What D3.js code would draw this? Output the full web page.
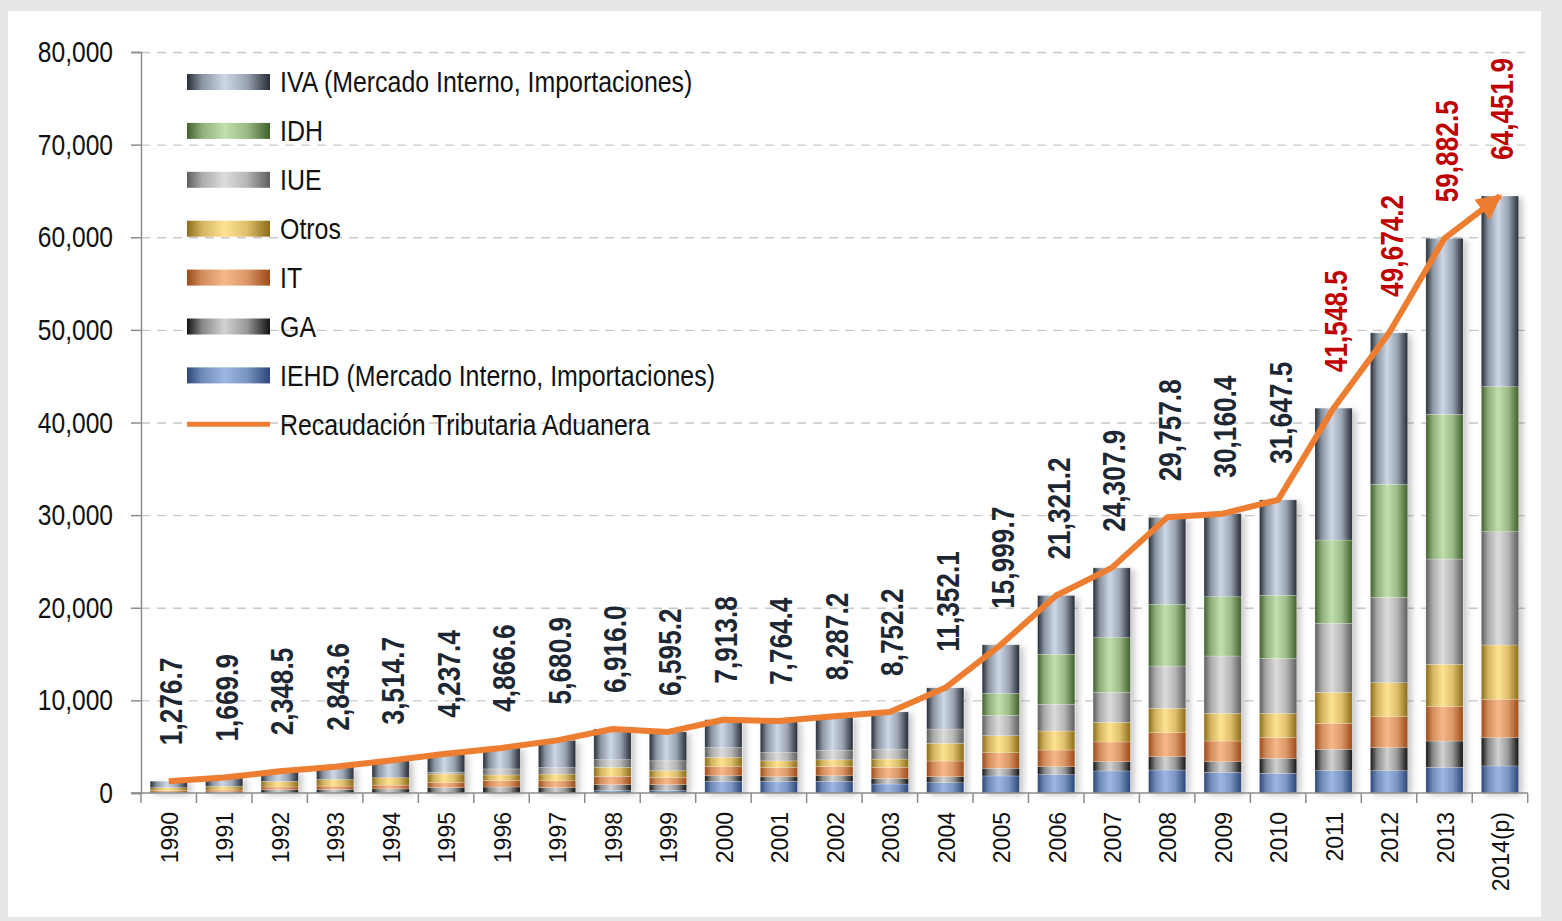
<!DOCTYPE html>
<html>
<head>
<meta charset="utf-8">
<script src="https://cdn.jsdelivr.net/npm/d3@7"></script>
<style>
  html, body { margin: 0; padding: 0; background: #e6e6e6; }
  svg { display: block; }
  text { font-family: "Liberation Sans", Arial, sans-serif; }
</style>
</head>
<body>
<svg id="chart" width="1562" height="921"></svg>
<script>
// recaudacion tributaria aduanera, millones de Bs
const years = ['1990','1991','1992','1993','1994','1995','1996','1997','1998','1999','2000','2001','2002',
  '2003','2004','2005','2006','2007','2008','2009','2010','2011','2012','2013','2014(p)']

const iehd  = [0,0,0,0,0,0,0,0,250,250,1250,1250,1250,970,1110,1840,1980,2380,2480,2230,2120,2410,2410,2770,2920]
const ga    = [100,120,350,400,450,600,650,600,650,650,610,500,610,600,650,830,860,1000,1440,1150,1620,2300,2480,2840,3050]
const it    = [170,200,300,350,400,550,700,720,900,780,1000,1000,1000,1190,1690,1680,1800,2130,2590,2230,2230,2810,3350,3710,4150]
const otros = [300,380,600,700,800,900,600,720,970,720,970,720,720,900,1920,1840,2050,2120,2630,2990,2630,3350,3670,4570,5860]
const iue   = [0,0,0,0,0,200,650,710,830,1080,1080,900,1040,1080,1540,2200,2890,3240,4570,6190,5940,7450,9220,11370,12230]
const idh   = [0,0,0,0,0,0,0,0,0,0,0,0,0,0,0,2370,5390,5900,6660,6400,6800,8990,12200,15620,15660]
const iva   = [706.7,969.9,1098.5,1393.6,1864.7,1987.4,2266.6,2930.9,3316.0,3115.2,3003.8,3394.4,3667.2,4012.2,
  4442.1,5239.7,6351.2,7537.9,9387.8,8970.4,10307.5,14238.5,16344.2,19002.5,20581.9]
const totals = [1276.7,1669.9,2348.5,2843.6,3514.7,4237.4,4866.6,5680.9,6916.0,6595.2,7913.8,7764.4,8287.2,
  8752.2,11352.1,15999.7,21321.2,24307.9,29757.8,30160.4,31647.5,41548.5,49674.2,59882.5,64451.9]
const yTicks = [0,10000,20000,30000,40000,50000,60000,70000,80000]

// stacking order, bottom to top
const series = [
  { key: 'iehd',  name: 'IEHD (Mercado Interno, Importaciones)', dark: '#2c4778', light: '#9db6e2' },
  { key: 'ga',    name: 'GA',    dark: '#141414', light: '#d2d2d2' },
  { key: 'it',    name: 'IT',    dark: '#9c4a18', light: '#f6b88a' },
  { key: 'otros', name: 'Otros', dark: '#8c6c18', light: '#ffe390' },
  { key: 'iue',   name: 'IUE',   dark: '#5e5e5e', light: '#dcdcdc' },
  { key: 'idh',   name: 'IDH',   dark: '#40612c', light: '#c1e0ad' },
  { key: 'iva',   name: 'IVA (Mercado Interno, Importaciones)', dark: '#262d37', light: '#cdd7e6' }
]
const values = { iehd, ga, it, otros, iue, idh, iva }

const rows = years.map((yr, i) => {
  const r = { year: yr, total: totals[i] }
  series.forEach(s => r[s.key] = values[s.key][i])
  return r
})

// arial narrow look: squeeze glyphs horizontally
const narrow = 'scale(0.82,1)'

const svg = d3.select('#chart')
const defs = svg.append('defs')

series.forEach(s => {
  const g = defs.append('linearGradient').attr('id', 'grad-' + s.key)
      .attr('x1', 0).attr('x2', 1).attr('y1', 0).attr('y2', 0)
  g.append('stop').attr('offset', '0%').attr('stop-color', s.dark)
  g.append('stop').attr('offset', '18%').attr('stop-color', d3.interpolateRgb(s.dark, s.light)(0.6))
  g.append('stop').attr('offset', '45%').attr('stop-color', s.light)
  g.append('stop').attr('offset', '72%').attr('stop-color', d3.interpolateRgb(s.dark, s.light)(0.7))
  g.append('stop').attr('offset', '100%').attr('stop-color', s.dark)
})

const shadow = defs.append('filter').attr('id', 'shadow')
    .attr('x', '-20%').attr('y', '-20%').attr('width', '160%').attr('height', '140%')
shadow.append('feDropShadow').attr('dx', 4).attr('dy', 2).attr('stdDeviation', 3)
    .attr('flood-color', '#000').attr('flood-opacity', 0.22)

defs.append('marker').attr('id', 'arrow')
    .attr('viewBox', '0 0 10 10').attr('refX', 9).attr('refY', 5)
    .attr('markerWidth', 4.2).attr('markerHeight', 4.2).attr('orient', 'auto')
  .append('path').attr('d', 'M0,0 L10,5 L0,10 z').attr('fill', '#ed7d31')

// panel
svg.append('rect').attr('x', 8).attr('y', 11).attr('width', 1533).attr('height', 906).attr('fill', '#fff')

const x = d3.scaleBand().domain(years).range([141, 1527.7]).paddingInner(0.33).paddingOuter(0.165)
const y = d3.scaleLinear().domain([0, 80000]).range([793, 52])

// grid
svg.append('g')
    .attr('transform', 'translate(141,0)')
    .call(d3.axisLeft(y).tickValues(yTicks.slice(1)).tickSize(-1384).tickFormat(''))
    .call(g => g.select('.domain').remove())
    .call(g => g.selectAll('line').attr('stroke', '#c9c9c9').attr('stroke-width', 1.3).attr('stroke-dasharray', '9,7'))

// bars
const stacked = d3.stack().keys(series.map(s => s.key))(rows)

const barG = svg.append('g').attr('filter', 'url(#shadow)')
barG.selectAll('g.layer')
    .data(stacked)
    .enter().append('g')
    .attr('class', 'layer')
    .attr('fill', d => `url(#grad-${d.key})`)
  .selectAll('rect')
    .data(d => d)
    .enter().append('rect')
    .attr('x', d => x(d.data.year))
    .attr('width', x.bandwidth())
    .attr('y', d => y(d[1]))
    .attr('height', d => Math.max(0, y(d[0]) - y(d[1])))
    .attr('stroke', 'rgba(255,255,255,0.35)')
    .attr('stroke-width', 0.6)

// y axis
const yAxis = svg.append('g')
    .attr('transform', 'translate(141,0)')
    .call(d3.axisLeft(y).tickValues(yTicks).tickSize(10).tickFormat(d3.format(',')))
yAxis.select('.domain').attr('stroke', '#8c8c8c').attr('stroke-width', 1.5)
yAxis.selectAll('line').attr('stroke', '#8c8c8c').attr('stroke-width', 1.5)
yAxis.selectAll('text')
    .attr('x', 0)
    .attr('transform', 'translate(-28,0) ' + narrow)
    .style('font-size', '30px')
    .attr('fill', '#111')

// x axis
const xAxis = svg.append('g')
    .attr('transform', 'translate(0,793)')
    .call(d3.axisBottom(x).tickSize(0).tickPadding(0))
xAxis.select('.domain').attr('d', 'M131,0H1528').attr('stroke', '#8c8c8c').attr('stroke-width', 1.5)
xAxis.selectAll('text')
    .attr('transform', 'translate(1,19) rotate(-90)')
    .attr('text-anchor', 'end')
    .attr('dy', '0.36em')
    .attr('x', 0).attr('y', 0)
    .style('font-size', '23px')
    .attr('fill', '#111')

const gap = (x.step() - x.bandwidth()) / 2
const bounds = years.map(d => x(d) - gap).concat([x(years[years.length - 1]) + x.bandwidth() + gap])
xAxis.selectAll('line.sep')
    .data(bounds)
    .enter().append('line')
    .attr('class', 'sep')
    .attr('x1', d => d).attr('x2', d => d)
    .attr('y1', 0).attr('y2', 10)
    .attr('stroke', '#8c8c8c').attr('stroke-width', 1.5)

// total line
const cx = d => x(d.year) + x.bandwidth() / 2
svg.append('path')
    .datum(rows)
    .attr('fill', 'none')
    .attr('stroke', '#ed7d31')
    .attr('stroke-width', 6)
    .attr('stroke-linejoin', 'round')
    .attr('marker-end', 'url(#arrow)')
    .attr('d', d3.line().x(cx).y(d => y(d.total)))

// value labels
svg.append('g')
  .selectAll('text')
    .data(rows)
    .enter().append('text')
    .attr('transform', d => `translate(${cx(d) + 2}, ${y(d.total) - 36}) rotate(-90) ${narrow}`)
    .attr('dy', '0.36em')
    .style('font-size', '32px')
    .style('font-weight', 'bold')
    .attr('fill', (d, i) => i >= 21 ? '#c00000' : '#1d2733')
    .text(d => d3.format(',.1f')(d.total))

// legend
const legendItems = series.slice().reverse().concat([{ key: 'line', name: 'Recaudación Tributaria Aduanera' }])
const legend = svg.append('g')
    .selectAll('g')
    .data(legendItems)
    .enter().append('g')
    .attr('transform', (d, i) => `translate(187, ${82 + i * 48.9})`)

legend.each(function(d) {
  const g = d3.select(this)
  if (d.key === 'line') {
    g.append('line').attr('x1', 0).attr('x2', 83).attr('y1', 0).attr('y2', 0)
        .attr('stroke', '#ed7d31').attr('stroke-width', 5)
  } else {
    g.append('rect').attr('x', 0).attr('y', -8).attr('width', 83).attr('height', 16)
        .attr('fill', `url(#grad-${d.key})`)
  }
})

legend.append('text')
    .attr('transform', 'translate(93,0) scale(0.86,1)')
    .attr('dy', '0.36em')
    .style('font-size', '29px')
    .attr('fill', '#111')
    .text(d => d.name)
</script>
</body>
</html>
